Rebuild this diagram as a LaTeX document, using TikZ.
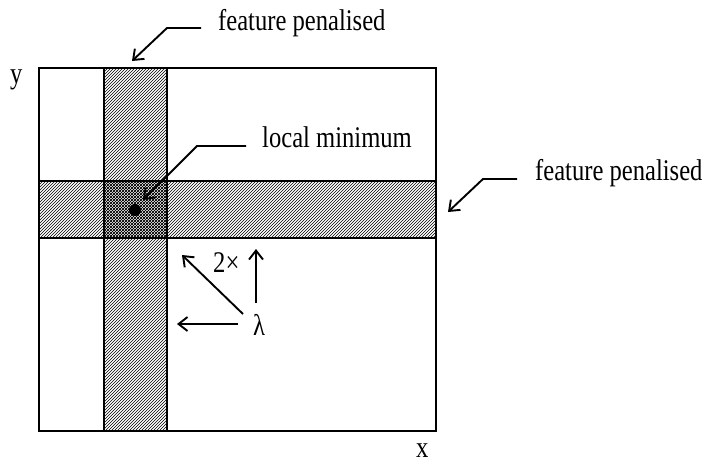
\documentclass[tikz,border=0pt]{standalone}
\usepackage{fontspec}
\setmainfont[FakeStretch=0.82]{Liberation Serif}
\usetikzlibrary{arrows.meta}
\usetikzlibrary{patterns}
\tikzset{>={Straight Barb[length=9pt,width=14pt]}}

\begin{document}
\begin{tikzpicture}[x=1pt, y=-1pt,
    font=\fontsize{30}{36}\selectfont,
    frame/.style={line width=2pt},
    pointer/.style={->, line width=1.9pt},
    label/.style={anchor=base west, inner sep=0pt}]
\useasboundingbox (0,0) rectangle (718,464);
    %hatched bands
    \fill[pattern=north east lines] (104,68) rectangle (167,431);
    \fill[pattern=north east lines] (39,181) rectangle (436,238);
    \fill[pattern=north west lines] (104,181) rectangle (167,238);
    %frame and band edges
    \draw[frame] (39,68) rectangle (436,431);
    \draw[frame] (104,68) -- (104,431);
    \draw[frame] (167,68) -- (167,431);
    \draw[frame] (39,181) -- (436,181);
    \draw[frame] (39,238) -- (436,238);
    %minimum
    \node[circle, fill=black, inner sep=0pt, minimum size=12pt] (mindot) at (135,210) {};
    %axis labels
    \node[label] (ylab) at (10,83) {y};
    \node[label] (xlab) at (416,457) {x};
    %texts
    \node[label] (fvert) at (218,30) {feature penalised};
    \node[label] (fhoriz) at (535,180) {feature penalised};
    \node[label] (locmin) at (262,147) {local minimum};
    \node[label] (lam) at (253,335) {λ};
    \node[label] (twice) at (213,272) {2×};
    %pointers
    \coordinate (fvstart) at (201,28);
    \coordinate (fvend) at (132,61);
    \draw[pointer] (fvstart) -- (167,28) -- (fvend);
    \coordinate (fhstart) at (517,179);
    \coordinate (fhend) at (448,212);
    \draw[pointer] (fhstart) -- (483,179) -- (fhend);
    \coordinate (lmstart) at (246,146);
    \coordinate (lmend) at (143,200);
    \draw[pointer] (lmstart) -- (197,146) -- (lmend);
    %step arrows
    \coordinate (leftend) at (177,324);
    \coordinate (diagend) at (182,255);
    \coordinate (upend) at (256,249);
    \draw[pointer] (238,324) -- (leftend);
    \draw[pointer] (243,314) -- (diagend);
    \draw[pointer] (256,303) -- (upend);
\end{tikzpicture}
\end{document}
